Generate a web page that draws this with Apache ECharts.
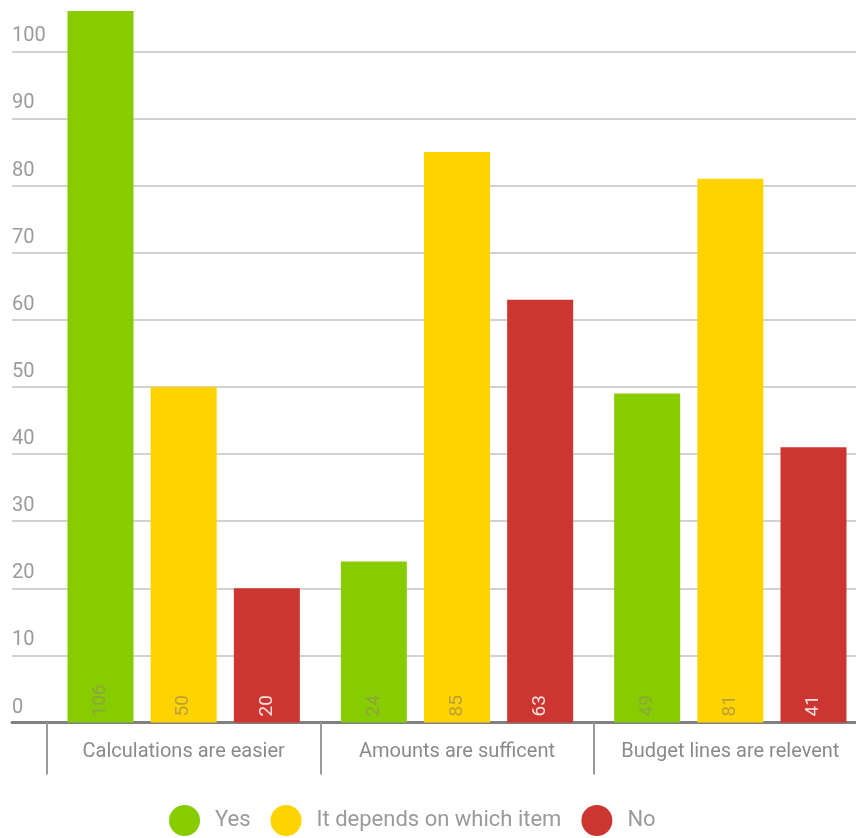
<!DOCTYPE html>
<html>
<head>
<meta charset="utf-8">
<script src="https://cdn.jsdelivr.net/npm/echarts@6/dist/echarts.min.js"></script>
<style>
html,body{margin:0;padding:0;background:#fff;}
#chart{width:856px;height:838px;}
</style>
</head>
<body>
<div id="chart"></div>
<script>
const categories = ['Calculations are easier', 'Amounts are sufficent', 'Budget lines are relevent'];
const seriesNames = ['Yes', 'It depends on which item', 'No'];
const yesValues = [106, 24, 49];
const dependsValues = [50, 85, 81];
const noValues = [20, 63, 41];
const yMax = 106;
const yInterval = 10;

const FONT = 'Roboto, "Liberation Sans", sans-serif';
const colors = ['#86cc00', '#ffd300', '#cc3530'];
const labelColors = ['#8ea53c', '#bba03a', '#f6e2e2'];
const seriesData = [yesValues, dependsValues, noValues];

const chart = echarts.init(document.getElementById('chart'), null, {renderer: 'canvas'});

const gridTop = 11, gridBottom = 115.5;

chart.setOption({
  animation: false,
  backgroundColor: '#ffffff',
  textStyle: {fontFamily: FONT},
  grid: [
    {left: 12, width: 855, top: gridTop, bottom: gridBottom, outerBoundsMode: 'none', containLabel: false},
    {left: 47, width: 820, top: gridTop, bottom: gridBottom, outerBoundsMode: 'none', containLabel: false}
  ],
  xAxis: [
    {
      gridIndex: 0, type: 'value', min: 0, max: 1,
      axisLine: {show: true, onZero: false, lineStyle: {color: '#808080', width: 3}},
      axisTick: {show: false}, axisLabel: {show: false}, splitLine: {show: false}
    },
    {
      gridIndex: 1, type: 'category', data: categories,
      axisLine: {show: false},
      axisTick: {show: true, interval: 0, length: 52, lineStyle: {color: '#9a9a9a', width: 2}},
      axisLabel: {interval: 0, margin: 19, color: '#8a8a8a', fontSize: 20, fontFamily: FONT}
    }
  ],
  yAxis: [
    {
      gridIndex: 0, type: 'value', min: 0, max: yMax, interval: yInterval,
      axisLine: {show: false}, axisTick: {show: false},
      splitLine: {show: true, showMaxLine: false, lineStyle: {color: '#d2d2d2', width: 2}},
      axisLabel: {
        inside: true, margin: 0, verticalAlign: 'bottom', align: 'left',
        padding: [0, 0, 5, 0], color: '#9a9a9a', fontSize: 20, fontFamily: FONT,
        showMaxLabel: false
      }
    },
    {
      gridIndex: 1, type: 'value', min: 0, max: yMax, interval: yInterval, show: false,
      splitLine: {show: false}
    }
  ],
  legend: {
    left: 164, bottom: -3,
    itemWidth: 31, itemHeight: 31, itemGap: 20, icon: 'circle',
    textStyle: {color: '#9a9a9a', fontSize: 22, fontFamily: FONT, padding: [0, 0, 0, 10]},
    data: seriesNames
  },
  series: seriesNames.map((name, i) => ({
    name: name,
    type: 'bar',
    xAxisIndex: 1, yAxisIndex: 1,
    data: seriesData[i],
    barWidth: 66,
    barGap: '26%',
    itemStyle: {color: colors[i]},
    label: {
      show: true, position: 'insideBottom', rotate: 90, distance: 6,
      align: 'left', verticalAlign: 'middle',
      color: labelColors[i], fontSize: 19, fontFamily: FONT
    }
  }))
});
</script>
</body>
</html>
